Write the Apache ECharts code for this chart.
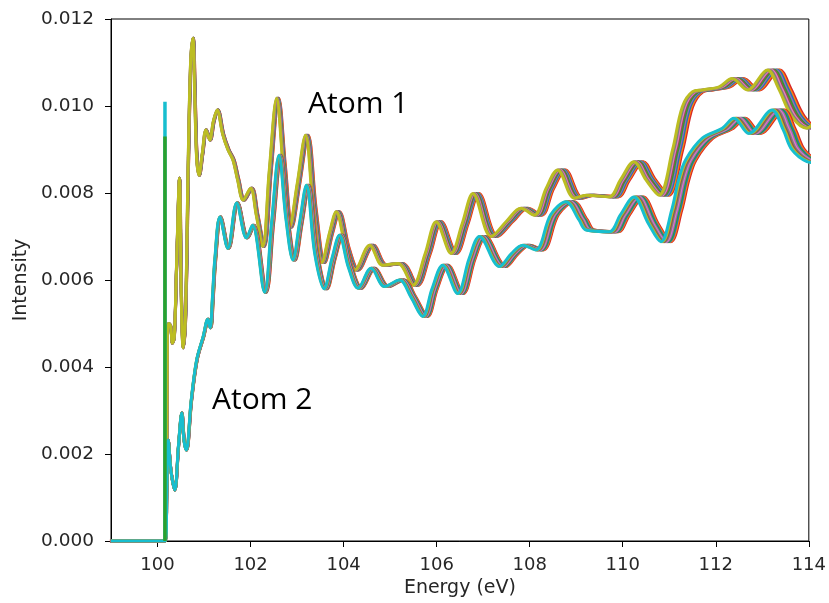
<!DOCTYPE html>
<html>
<head>
<meta charset="utf-8">
<title>Intensity vs Energy</title>
<script src="https://cdn.jsdelivr.net/npm/echarts@6/dist/echarts.min.js"></script>
<style>
  html, body { margin: 0; padding: 0; background: #fff; }
  #chart { width: 829px; height: 603px; }
</style>
</head>
<body>
<div id="chart"></div>
<script>
// Spectrum of atom 1 (front trace of the bundle)
const atom1Energy = [
  99.00, 100.15, 100.19, 100.21, 100.24, 100.28, 100.32, 100.36, 100.41, 100.47,
  100.51, 100.55, 100.60, 100.66, 100.71, 100.76, 100.80, 100.84, 100.89, 100.96,
  101.04, 101.12, 101.20, 101.28, 101.40, 101.51, 101.62, 101.72, 101.84, 102.00,
  102.12, 102.26, 102.40, 102.56, 102.70, 102.84, 103.00, 103.18, 103.35, 103.53,
  103.70, 103.84, 104.05, 104.24, 104.56, 104.84, 105.17, 105.49, 105.75, 105.99,
  106.31, 106.55, 106.78, 107.17, 107.50, 107.81, 108.10, 108.35, 108.60, 108.96,
  109.21, 109.71, 109.95, 110.24, 110.50, 110.78, 111.07, 111.28, 111.50, 111.71,
  112.07, 112.35, 112.68, 113.11, 113.35, 113.64, 113.96, 114.10
];
const atom1Intensity = [
  0.00000, 0.00000, 0.00060, 0.00470, 0.00500, 0.00495, 0.00455, 0.00470, 0.00640, 0.00834,
  0.00560, 0.00444, 0.00520, 0.00880, 0.01100, 0.01156, 0.01020, 0.00880, 0.00841, 0.00890,
  0.00945, 0.00922, 0.00965, 0.00991, 0.00935, 0.00900, 0.00876, 0.00830, 0.00784, 0.00811,
  0.00750, 0.00677, 0.00850, 0.01018, 0.00860, 0.00722, 0.00820, 0.00933, 0.00760, 0.00640,
  0.00710, 0.00757, 0.00670, 0.00623, 0.00680, 0.00634, 0.00638, 0.00588, 0.00660, 0.00734,
  0.00661, 0.00730, 0.00799, 0.00700, 0.00735, 0.00765, 0.00749, 0.00810, 0.00853, 0.00788,
  0.00795, 0.00791, 0.00830, 0.00872, 0.00830, 0.00795, 0.00899, 0.00998, 0.01033, 0.01037,
  0.01044, 0.01063, 0.01037, 0.01083, 0.01040, 0.00975, 0.00949, 0.00960
];

// Spectrum of atom 2 (front trace of the bundle)
const atom2Energy = [
  99.00, 100.17, 100.20, 100.23, 100.29, 100.37, 100.45, 100.52, 100.57, 100.62,
  100.72, 100.84, 100.98, 101.08, 101.13, 101.18, 101.23, 101.34, 101.51, 101.70,
  101.91, 102.04, 102.30, 102.45, 102.61, 102.76, 102.91, 103.05, 103.20, 103.38,
  103.58, 103.75, 103.91, 104.10, 104.31, 104.59, 104.88, 105.20, 105.45, 105.70,
  105.90, 106.13, 106.45, 106.70, 106.92, 107.35, 107.60, 107.85, 108.13, 108.45,
  108.78, 109.06, 109.21, 109.71, 109.95, 110.24, 110.55, 110.82, 111.05, 111.20,
  111.35, 111.71, 112.14, 112.39, 112.71, 113.21, 113.45, 113.64, 113.96, 114.10
];
const atom2Intensity = [
  0.00000, 0.00000, 0.00120, 0.00232, 0.00160, 0.00117, 0.00220, 0.00294, 0.00230, 0.00209,
  0.00320, 0.00416, 0.00470, 0.00510, 0.00490, 0.00560, 0.00646, 0.00745, 0.00673, 0.00777,
  0.00697, 0.00726, 0.00572, 0.00730, 0.00887, 0.00740, 0.00646, 0.00730, 0.00818, 0.00660,
  0.00580, 0.00650, 0.00703, 0.00630, 0.00581, 0.00627, 0.00585, 0.00600, 0.00560, 0.00516,
  0.00580, 0.00634, 0.00569, 0.00650, 0.00700, 0.00631, 0.00660, 0.00680, 0.00669, 0.00750,
  0.00780, 0.00738, 0.00715, 0.00711, 0.00750, 0.00791, 0.00730, 0.00688, 0.00760, 0.00830,
  0.00876, 0.00926, 0.00949, 0.00972, 0.00937, 0.00991, 0.00945, 0.00899, 0.00872, 0.00870
];

// Energy scale factor of each trace about the absorption edge (back to front)
const atom1TraceScale = [1.0200, 1.0175, 1.0150, 1.0125, 1.0100, 1.0075, 1.0050, 1.0025, 1.0000];
const atom2TraceScale = [1.0200, 1.0178, 1.0156, 1.0133, 1.0111, 1.0089, 1.0067, 1.0044, 1.0022, 1.0000];
const atom1Colors = ['#d62728', '#ff7f0e', '#1f77b4', '#9467bd', '#2ca02c', '#8c564b', '#e377c2', '#7f7f7f', '#bcbd22'];
const atom2Colors = ['#d62728', '#ff7f0e', '#1f77b4', '#2ca02c', '#9467bd', '#e377c2', '#7f7f7f', '#8c564b', '#bcbd22', '#17becf'];

// Absorption edge and the spike drawn at it
const edgeEnergy = 100.16;
const edgePeaks = [0.0101, 0.0093];
const edgeColors = ['#17becf', '#2ca02c'];

// Axis ticks
const xTickValues = [100, 102, 104, 106, 108, 110, 112, 114];
const yTickStep = 0.002;

const font = 'DejaVu Sans';
const textColor = '#262626';
const series = [];

function addBundle(name, energy, intensity, scales, colors) {
  scales.forEach((s, k) => {
    series.push({
      name: name,
      type: 'line',
      data: energy.map((e, i) => [edgeEnergy + (e - edgeEnergy) * s, intensity[i]]),
      showSymbol: false,
      smooth: 0.35,
      lineStyle: { width: 3, color: colors[k] },
      itemStyle: { color: colors[k] },
      emphasis: { disabled: true },
      clip: true
    });
  });
}

addBundle('Atom 1', atom1Energy, atom1Intensity, atom1TraceScale, atom1Colors);
addBundle('Atom 2', atom2Energy, atom2Intensity, atom2TraceScale, atom2Colors);

edgePeaks.forEach((p, k) => {
  series.push({
    name: 'edge',
    type: 'line',
    data: [[edgeEnergy, 0], [edgeEnergy, p]],
    showSymbol: false,
    lineStyle: { width: 3.5, color: edgeColors[k] },
    emphasis: { disabled: true }
  });
});

const chart = echarts.init(document.getElementById('chart'), null, { renderer: 'canvas' });
chart.setOption({
  animation: false,
  backgroundColor: '#fff',
  grid: {
    left: 111, right: 19, top: 19, bottom: 62,
    show: true, borderColor: '#000', borderWidth: 1, backgroundColor: 'transparent'
  },
  xAxis: {
    type: 'value',
    min: 99, max: 114,
    name: 'Energy (eV)',
    nameLocation: 'middle',
    nameGap: 36,
    nameTextStyle: { fontFamily: font, fontSize: 19, color: textColor },
    axisLine: { show: true, onZero: false, lineStyle: { color: '#000', width: 1 } },
    axisTick: { show: true, length: 6, customValues: xTickValues, lineStyle: { color: '#000' } },
    axisLabel: { customValues: xTickValues, fontFamily: font, fontSize: 18, color: textColor, margin: 15 },
    splitLine: { show: false }
  },
  yAxis: {
    type: 'value',
    min: 0, max: 0.012, interval: yTickStep,
    name: 'Intensity',
    nameLocation: 'middle',
    nameRotate: 90,
    nameGap: 80,
    nameTextStyle: { fontFamily: font, fontSize: 19, color: textColor },
    axisLine: { show: true, lineStyle: { color: '#000', width: 1 } },
    axisTick: { show: true, length: 6, lineStyle: { color: '#000' } },
    axisLabel: { fontFamily: font, fontSize: 18.5, color: textColor, margin: 17,
      formatter: v => v.toFixed(3) },
    splitLine: { show: false }
  },
  graphic: [
    { type: 'text', left: 308, top: 89,
      style: { text: 'Atom 1', font: '30px "Open Sans"', fill: '#000' } },
    { type: 'text', left: 212, top: 385,
      style: { text: 'Atom 2', font: '30px "Open Sans"', fill: '#000' } }
  ],
  series: series
});
</script>
</body>
</html>
